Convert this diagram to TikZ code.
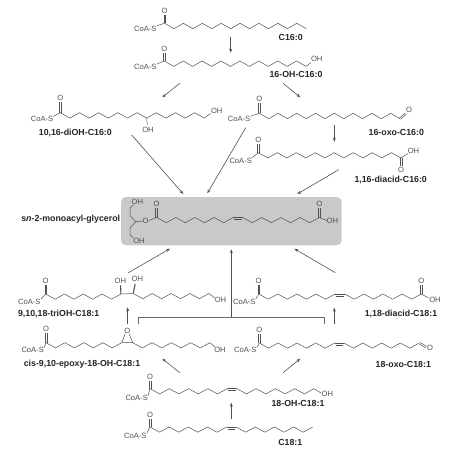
\documentclass[tikz,border=0pt]{standalone}
\usepackage{fontspec}
\setmainfont{Liberation Sans}
\usetikzlibrary{arrows.meta}
\definecolor{ink}{HTML}{505050}
\definecolor{panel}{HTML}{C9C9C9}
\tikzset{
  bond/.style={draw=ink,line width=.5pt,line join=round},
  wedgebond/.style={draw=ink,line width=1.1pt},
  atom/.style={text=ink,font=\fontsize{7.6}{8}\selectfont,inner sep=0pt},
  namelabel/.style={text=black!85,font=\fontsize{8.8}{10}\bfseries\selectfont,inner sep=0pt},
  flow/.style={draw=ink,line width=.6pt,-{Stealth[length=4pt,width=3pt]}},
  split/.style={draw=ink!85,line width=.6pt},
}
% zigzag: x0,y0,dx,amp,n
\newcommand{\zz}[5]{\draw[bond] (#1,#2) \foreach \i in {1,...,#5} { -- ({#1+\i*#3},{#2+#4*mod(\i,2)}) };}
% chain with one cis double bond: x0,y0,dx,amp (8 + flat + 8)
\newcommand{\zzdb}[4]{%
  \zz{#1}{#2}{#3}{#4}{8}
  \draw[bond] ({#1+8*#3},#2) -- ({#1+9*#3},#2);
  \draw[bond] ({#1+8*#3+1},{#2+1.9}) -- ({#1+9*#3-1},{#2+1.9});
  \zz{#1+9*#3}{#2}{#3}{#4}{8}}
% carbonyl: name,x,yC,yO
\newcommand{\carbonyl}[4]{%
  \node[atom] (#1) at (#2,#4) {O};
  \draw[bond] ({#2-.8},#3) -- ({#2-.8},{#4+4});
  \draw[bond] ({#2+.8},#3) -- ({#2+.8},{#4+4});}
% CoA-S: name,xlabel,ylabel,xC,yC
\newcommand{\coa}[5]{%
  \node[atom] (#1) at (#2,#3) {CoA-S};
  \draw[bond] ({#2+11.5},{#3-3}) -- (#4,#5);}
\newcommand{\flowarrow}[6]{%
  \coordinate (#1s) at (#3,#4);
  \coordinate (#1e) at (#5,#6);
  \draw[#2] (#1s) -- (#1e);}
\begin{document}
\begin{tikzpicture}[x=1pt,y=-1pt]
\useasboundingbox (0,0) rectangle (474,455);
\fill[white] (0,0) rectangle (474,455);

% ---- C16:0
\coa{c1coa}{145.3}{28.7}{164.5}{23.3}
\carbonyl{c1o}{164.6}{23.3}{10.7}
\zz{164.5}{23.3}{9.45}{5.4}{15}
\node[namelabel] (c1n) at (290.7,37.5) {C16:0};

% ---- 16-OH-C16:0
\coa{c2coa}{145.3}{67}{164.3}{61}
\carbonyl{c2o}{164.4}{61}{49}
\zz{164.3}{61}{9.45}{5.4}{15}
\draw[bond] (306.1,66.4) -- (311,62.5);
\node[atom] (c2oh) at (316.7,59) {OH};
\node[namelabel] (c2n) at (296,74.8) {16-OH-C16:0};

% ---- 10,16-diOH
\coa{c3coa}{42}{119.3}{60.3}{112.7}
\carbonyl{c3o}{60.4}{112.7}{98.3}
\zz{60.3}{112.7}{9.6}{5.4}{15}
\draw[bond] (204.3,118.1) -- (210.5,113.5);
\node[atom] (c3oh) at (216.7,111) {OH};
\draw[bond] (146.7,118.1) -- (147.3,125);
\node[atom] (c3ohb) at (148,129.5) {OH};
\node[namelabel] (c3n) at (75.3,132.8) {10,16-diOH-C16:0};

% ---- 16-oxo
\coa{c4coa}{239}{119.3}{259.3}{113.3}
\carbonyl{c4o}{259.4}{113.3}{99.3}
\zz{259.3}{113.3}{9.38}{5.4}{15}
\draw[bond] (399.5,118) -- (405.3,113);
\draw[bond] (400.5,119.2) -- (406.3,114.2);
\node[atom] (c4ald) at (409,110.3) {O};
\node[namelabel] (c4n) at (396.3,132.8) {16-oxo-C16:0};

% ---- 1,16-diacid
\coa{c5coa}{240.7}{160.7}{258.3}{152.7}
\carbonyl{c5o}{258.4}{152.7}{140}
\zz{258.3}{152.7}{9.5}{5.2}{15}
\draw[bond] (400.2,157.9) -- (400.2,166);
\draw[bond] (401.8,157.9) -- (401.8,166);
\node[atom] (c5o2) at (401,170) {O};
\draw[bond] (400.8,157.9) -- (408,153.5);
\node[atom] (c5oh) at (413.5,150.8) {OH};
\node[namelabel] (c5n) at (390.7,180.3) {1,16-diacid-C16:0};

% ---- central panel
\node[draw=none,fill=panel,rounded corners=5pt,minimum width=220.7pt,minimum height=48.3pt,inner sep=0pt] (panelbox) at (231.35,221.15) {};
\node[namelabel,anchor=east] (mn) at (120.3,219.3) {s\textit{n}-2-monoacyl-glycerol};
\node[atom] (moh1) at (137.3,201.7) {OH};
\node[atom] (moh2) at (139,241.3) {OH};
\node[atom] (mo) at (145.7,221.3) {O};
\draw[bond] (133.5,205) -- (130,208) -- (130,215.5) -- (135.7,221.7) -- (130,228) -- (130,234.5) -- (133.5,238);
\draw[bond] (135.7,221.7) -- (142.8,221);
\draw[bond] (148.7,220.5) -- (156.7,217.5);
\carbonyl{mo2}{156.5}{217.5}{204}
\zzdb{156.7}{217.5}{9.56}{5.2}
\carbonyl{mo3}{319.3}{217.5}{204}
\draw[bond] (319.3,217.5) -- (326.8,220.5);
\node[atom] (moh3) at (332.3,221.3) {OH};

% ---- 9,10,18-triOH
\coa{t1coa}{29.3}{302}{45.7}{294}
\carbonyl{t1o}{45.7}{294}{281}
\zz{45.7}{294}{9.4}{5.2}{8}
\draw[bond] (120.9,294) -- (133.3,293.5);
\zz{133.3}{293.5}{9.45}{5.2}{8}
\draw[bond] (209,293.5) -- (215,298);
\node[atom] (t1oh) at (220.5,299.7) {OH};
\node[atom] (t1oha) at (120.3,280.7) {OH};
\node[atom] (t1ohb) at (137.3,279.3) {OH};
\draw[wedgebond] (120.9,294) -- (120.6,285.3);
\draw[wedgebond] (133.3,293) -- (135.2,284);
\node[namelabel] (t1n) at (58.7,313.8) {9,10,18-triOH-C18:1};

% ---- 1,18-diacid
\coa{d1coa}{244.3}{302}{258.7}{294}
\carbonyl{d1o}{258.7}{294}{281}
\zzdb{258.7}{294}{9.56}{5.2}
\carbonyl{d1o2}{421.3}{294}{281}
\draw[bond] (421.3,294) -- (428.5,298);
\node[atom] (d1oh) at (435,299.7) {OH};
\node[namelabel] (d1n) at (401,313.8) {1,18-diacid-C18:1};

% ---- epoxy
\coa{e1coa}{32.7}{350.3}{46}{342.7}
\carbonyl{e1o}{46}{342.7}{329.3}
\zz{46}{342.7}{9.46}{5.2}{8}
\zz{132.7}{342.7}{9.66}{5.2}{8}
\node[atom] (e1ox) at (127.3,330.7) {O};
\draw[bond] (121.7,342.7) -- (132.7,342.7) -- (129.3,334);
\draw[bond] (121.7,342.7) -- (125.2,334);
\draw[bond] (210,342.7) -- (215,347);
\node[atom] (e1oh) at (220,349.7) {OH};
\node[namelabel] (e1n) at (82,364.3) {cis-9,10-epoxy-18-OH-C18:1};

% ---- 18-oxo
\coa{o1coa}{245.3}{350.3}{259.3}{343.3}
\carbonyl{o1o}{259.3}{343.3}{330}
\zzdb{259.3}{343}{9.41}{5.2}
\draw[bond] (420,342.4) -- (426.5,346.4);
\draw[bond] (419.2,343.9) -- (425.7,347.9);
\node[atom] (o1ald) at (430,348.3) {O};
\node[namelabel] (o1n) at (403.3,364.3) {18-oxo-C18:1};

% ---- 18-OH
\coa{h1coa}{136.7}{398.3}{150}{388.5}
\carbonyl{h1o}{150}{388.5}{376.7}
\zzdb{150}{388.7}{9.65}{5.2}
\draw[bond] (314,388.7) -- (321,393);
\node[atom] (h1oh) at (327.3,394) {OH};
\node[namelabel] (h1n) at (298,403.3) {18-OH-C18:1};

% ---- C18:1
\coa{b1coa}{135.3}{436.3}{150}{427}
\carbonyl{b1o}{150}{427}{414.7}
\zzdb{150}{427}{9.57}{5.2}
\node[namelabel] (b1n) at (290.3,442.3) {C18:1};

% ---- arrows
\flowarrow{a1}{flow}{230.7}{36.7}{230.7}{52.7}
\flowarrow{a2}{flow}{179.7}{83.3}{162.3}{97.3}
\flowarrow{a3}{flow}{283}{83.3}{300.3}{97.3}
\flowarrow{a4}{flow}{334.3}{125}{334.3}{141.7}
\flowarrow{a5}{flow}{131.7}{135}{183.3}{194}
\flowarrow{a6}{flow}{245.7}{127.7}{207.3}{193.3}
\flowarrow{a7}{flow}{338.7}{169.7}{297.3}{194}
\flowarrow{a8}{flow}{128.3}{272.7}{170}{248.7}
\flowarrow{a9}{flow}{231.3}{316.7}{231.3}{249.3}
\flowarrow{a10}{flow}{335.3}{272.7}{294.3}{248.7}
\flowarrow{a11}{flow}{127.7}{324.3}{127.7}{307.3}
\flowarrow{a12}{flow}{334.3}{324.3}{334.3}{307.7}
\flowarrow{a13}{flow}{179.7}{372.7}{162.3}{358.7}
\flowarrow{a14}{flow}{283}{372.7}{300.3}{358.7}
\flowarrow{a15}{flow}{231.3}{419.3}{231.3}{402.7}
\coordinate (brl) at (138.3,324.3);
\coordinate (brr) at (324.7,324.3);
\draw[split] (brl) -- (138.3,317) -- (324.7,317) -- (brr);
\end{tikzpicture}
\end{document}
